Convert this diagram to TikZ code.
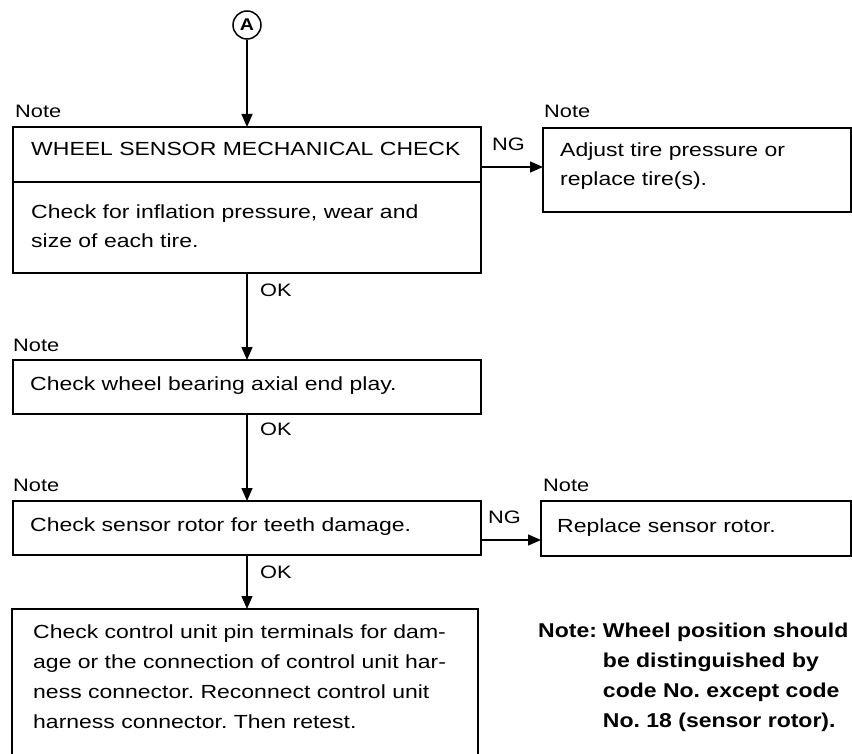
\documentclass[tikz,border=0pt]{standalone}
\usepackage{fontspec}
\setmainfont{Liberation Sans}
\newfontfamily\bodyfont{Liberation Sans}[FakeStretch=1.21]
\newfontfamily\notefont{Liberation Sans}[FakeStretch=1.15]
\usetikzlibrary{arrows.meta,calc}
\frenchspacing
\begin{document}
\begin{tikzpicture}[x=1pt,y=-1pt,
  box/.style={draw, line width=1.4pt, rectangle, inner sep=0pt, outer sep=0pt, anchor=north west},
  txt/.style={anchor=base west, inner sep=0pt, align=left, font=\bodyfont\fontsize{19}{29}\selectfont},
  lbl/.style={anchor=base west, inner sep=0pt, font=\bodyfont\fontsize{18}{22}\selectfont},
  flow/.style={line width=1.3pt, -{Triangle[length=13pt,width=11pt]}},
]
\useasboundingbox (0,0) rectangle (852,754);
\clip (0,0) rectangle (852,754);

% connector A
\node[circle, draw, line width=1.5pt, minimum size=28pt, inner sep=0pt,
      font=\notefont\bfseries\fontsize{17}{17}\selectfont] (A) at (247,25) {A};

% boxes
\node[box, minimum width=468pt, minimum height=55pt] (h1) at (13,127) {};
\node[box, minimum width=468pt, minimum height=91pt] (b1) at (13,182) {};
\node[box, minimum width=308pt, minimum height=84pt] (r1) at (543,128) {};
\node[box, minimum width=468pt, minimum height=54pt] (b2) at (13,360) {};
\node[box, minimum width=468pt, minimum height=54pt] (b3) at (13,501) {};
\node[box, minimum width=310pt, minimum height=55pt] (r3) at (541,501) {};
\node[box, minimum width=466pt, minimum height=200pt] (b4) at (12,609) {};

% Note labels
\node[lbl] (n1) at (15,118) {Note};
\node[lbl] (n2) at (544,118) {Note};
\node[lbl] (n3) at (13,351) {Note};
\node[lbl] (n4) at (13,491) {Note};
\node[lbl] (n5) at (543,491) {Note};

% texts (multi-line nodes: base = last line)
\node[txt] (t1) at (31,156) {WHEEL SENSOR MECHANICAL CHECK};
\node[txt] (t2) at (31,248) {Check for inflation pressure, wear and\\size of each tire.};
\node[txt] (t3) at (560,186) {Adjust tire pressure or\\replace tire(s).};
\node[txt] (t4) at (30,390) {Check wheel bearing axial end play.};
\node[txt] (t5) at (30,531) {Check sensor rotor for teeth damage.};
\node[txt] (t6) at (557,532) {Replace sensor rotor.};
\node[txt, font=\bodyfont\fontsize{19}{30}\selectfont] (t7) at (33,728)
  {Check control unit pin terminals for dam-\\age or the connection of control unit har-\\ness connector. Reconnect control unit\\harness connector. Then retest.};
\node[anchor=base west, inner sep=0pt, font=\notefont\bfseries\fontsize{20}{30}\selectfont] (t8) at (538,637)
  {\begin{tabular}[t]{@{}l@{\hspace{6pt}}l@{}}Note: & Wheel position should\\ & be distinguished by\\ & code No. except code\\ & No. 18 (sensor rotor).\end{tabular}};

% connectors
\draw[flow] (A) -- (h1);
\draw[flow] (b1.south) -- (b1.south |- b2.north);
\draw[flow] (b2.south) -- (b2.south |- b3.north);
\draw[flow] (b3.south) -- (b3.south |- b4.north);
\draw[flow] ([yshift=3pt]r1.west -| h1.east) -- ([yshift=3pt]r1.west);
\draw[flow] ([yshift=-12pt]b3.east) -- ([yshift=-12pt]b3.east -| r3.west);

% connector labels
\node[lbl] (ng1) at (492,151) {NG};
\node[lbl] (ng2) at (488,523) {NG};
\node[lbl] (ok1) at (260,297) {OK};
\node[lbl] (ok2) at (260,435) {OK};
\node[lbl] (ok3) at (260,578) {OK};
\end{tikzpicture}
\end{document}
